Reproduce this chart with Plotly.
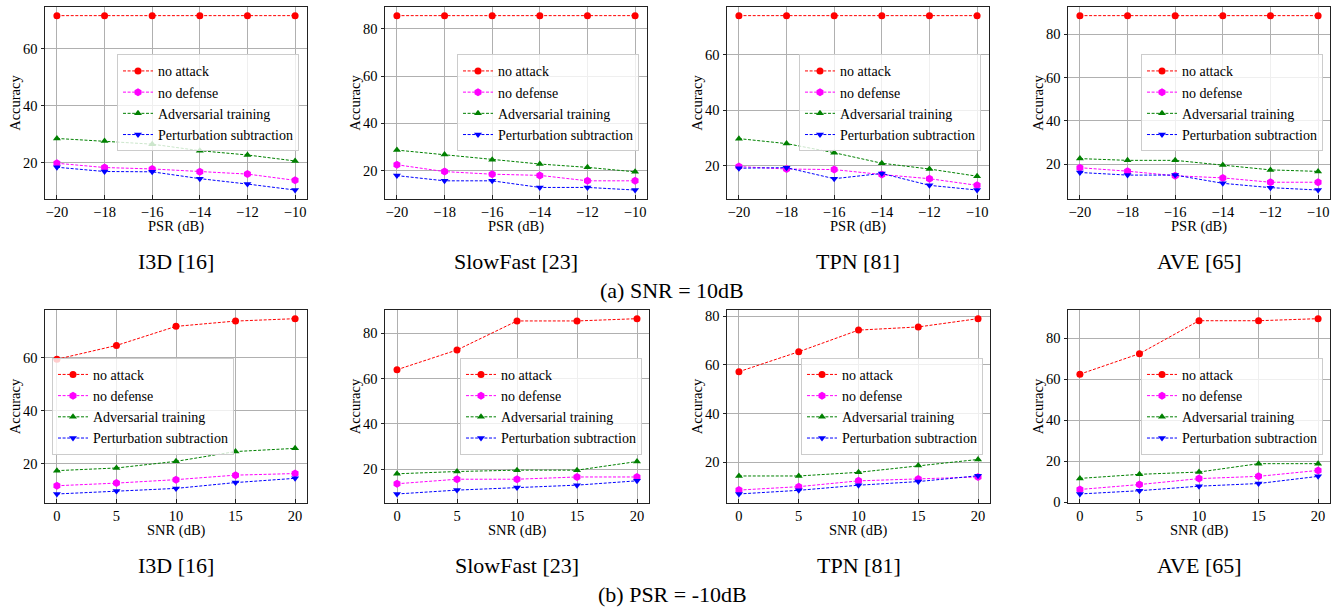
import plotly.graph_objects as go

# ---------------- data ----------------
psr = [-20, -18, -16, -14, -12, -10]
psr_ticktext = ["\u221220", "\u221218", "\u221216", "\u221214", "\u221212", "\u221210"]
snr = [0, 5, 10, 15, 20]

series_names = ["no attack", "no defense", "Adversarial training", "Perturbation subtraction"]
models = ["I3D [16]", "SlowFast [23]", "TPN [81]", "AVE [65]"]

# (a) SNR = 10dB, x = PSR
i3d_a_noattack = [71.7, 71.7, 71.7, 71.7, 71.7, 71.7]
i3d_a_nodef = [19.9, 18.4, 17.9, 16.9, 16.1, 13.9]
i3d_a_adv = [28.6, 27.7, 26.6, 24.3, 22.8, 20.7]
i3d_a_pert = [18.5, 17.0, 16.9, 14.5, 12.6, 10.5]

sf_a_noattack = [85.6, 85.6, 85.6, 85.6, 85.6, 85.6]
sf_a_nodef = [22.5, 19.6, 18.5, 18.0, 15.7, 15.7]
sf_a_adv = [28.7, 26.8, 24.6, 22.8, 21.4, 19.5]
sf_a_pert = [17.9, 15.7, 15.7, 12.9, 12.9, 11.8]

tpn_a_noattack = [74.2, 74.2, 74.2, 74.2, 74.2, 74.2]
tpn_a_nodef = [19.6, 18.7, 18.5, 16.7, 15.2, 12.8]
tpn_a_adv = [29.7, 27.9, 24.6, 20.8, 18.7, 16.1]
tpn_a_pert = [19.0, 19.2, 15.2, 17.1, 12.8, 11.1]

ave_a_noattack = [88.6, 88.6, 88.6, 88.6, 88.6, 88.6]
ave_a_nodef = [18.4, 16.8, 14.7, 13.7, 11.7, 11.7]
ave_a_adv = [22.6, 21.8, 21.8, 19.7, 17.4, 16.7]
ave_a_pert = [16.2, 15.0, 15.0, 11.2, 9.2, 8.1]

# (b) PSR = -10dB, x = SNR
i3d_b_noattack = [59.4, 64.6, 71.8, 73.8, 74.7]
i3d_b_nodef = [11.7, 12.7, 14.0, 15.7, 16.3]
i3d_b_adv = [17.4, 18.4, 20.9, 24.6, 25.8]
i3d_b_pert = [8.6, 9.7, 10.7, 12.9, 14.5]

sf_b_noattack = [63.9, 72.6, 85.4, 85.4, 86.4]
sf_b_nodef = [13.6, 15.6, 15.6, 16.6, 16.6]
sf_b_adv = [18.0, 19.0, 19.6, 19.6, 23.4]
sf_b_pert = [9.1, 10.8, 11.9, 13.0, 14.9]

tpn_b_noattack = [57.2, 65.4, 74.3, 75.6, 79.0]
tpn_b_nodef = [8.5, 9.9, 12.3, 13.1, 13.9]
tpn_b_adv = [14.3, 14.3, 15.8, 18.6, 21.1]
tpn_b_pert = [6.9, 8.4, 10.5, 12.0, 14.4]

ave_b_noattack = [62.5, 72.5, 88.6, 88.6, 89.6]
ave_b_nodef = [6.2, 8.6, 11.5, 12.6, 15.5]
ave_b_adv = [11.6, 13.6, 14.7, 18.8, 18.8]
ave_b_pert = [4.0, 5.6, 7.8, 9.1, 12.6]

top_panels = [
    [i3d_a_noattack, i3d_a_nodef, i3d_a_adv, i3d_a_pert],
    [sf_a_noattack, sf_a_nodef, sf_a_adv, sf_a_pert],
    [tpn_a_noattack, tpn_a_nodef, tpn_a_adv, tpn_a_pert],
    [ave_a_noattack, ave_a_nodef, ave_a_adv, ave_a_pert],
]
bottom_panels = [
    [i3d_b_noattack, i3d_b_nodef, i3d_b_adv, i3d_b_pert],
    [sf_b_noattack, sf_b_nodef, sf_b_adv, sf_b_pert],
    [tpn_b_noattack, tpn_b_nodef, tpn_b_adv, tpn_b_pert],
    [ave_b_noattack, ave_b_nodef, ave_b_adv, ave_b_pert],
]

# ---------------- style ----------------
W, H = 1344, 616
FONT = "Liberation Serif, Times New Roman, serif"
FS = 14.5
LFS = 14
colors = ["#ff0000", "#ff00ff", "#008000", "#0000ff"]
symbols = ["circle", "hexagon", "triangle-up", "triangle-down"]

top_x_px = [(45, 307), (385, 647), (727, 989), (1068, 1330)]
bot_x_px = [(45, 307), (385, 649), (727, 990), (1068, 1330)]
top_y_px = (5, 200)
bot_y_px = (313, 509)
top_leg = [(299, "right"), (639, "right"), (981, "right"), (1323, "right")]
bot_leg = [(52, "left"), (642, "right"), (983, "right"), (1323, "right")]


def px_x(p):
    return p / W


def px_y(p):
    return 1 - p / H


def mpl_range(vals, pad=0.05):
    lo, hi = min(vals), max(vals)
    d = hi - lo
    return [lo - pad * d, hi + pad * d]


fig = go.Figure()
layout = dict(
    width=W, height=H, margin=dict(l=0, r=0, t=0, b=0),
    paper_bgcolor="white", plot_bgcolor="white",
    font=dict(family=FONT, size=FS, color="black"),
    annotations=[],
)

panels = []
for i in range(4):
    panels.append(("a", i, top_panels[i], psr, top_x_px[i], top_y_px, top_leg[i]))
for i in range(4):
    panels.append(("b", i, bottom_panels[i], snr, bot_x_px[i], bot_y_px, bot_leg[i]))

for k, (row, col, data, xs, xpx, ypx, leg) in enumerate(panels):
    n = k + 1
    xa = "x" if n == 1 else f"x{n}"
    ya = "y" if n == 1 else f"y{n}"
    lg = "legend" if n == 1 else f"legend{n}"
    for s in range(4):
        fig.add_trace(go.Scatter(
            x=xs, y=data[s], name=series_names[s], mode="lines+markers",
            xaxis=xa, yaxis=ya, legend=lg,
            line=dict(color=colors[s], width=1, dash="3px,1.6px"),
            marker=dict(color=colors[s], symbol=symbols[s], size=7 if s != 1 else 8,
                        line=dict(width=0)),
            showlegend=True,
        ))
    allv = [v for ser in data for v in ser]
    yr = mpl_range(allv)
    xr = mpl_range(xs)
    axis_common = dict(
        showline=True, mirror=True, linecolor="#222222", linewidth=1,
        showgrid=True, gridcolor="#b0b0b0", gridwidth=0.8,
        ticklen=3.5, tickwidth=0.8, tickcolor="#222222",
        zeroline=False, tickfont=dict(family=FONT, size=FS, color="black"),
    )
    xaxis = dict(axis_common, ticks="inside", domain=[px_x(xpx[0]), px_x(xpx[1])],
                 range=xr, anchor=ya)
    if row == "a":
        xaxis.update(tickvals=psr, ticktext=psr_ticktext)
    else:
        xaxis.update(tickvals=snr)
    yaxis = dict(axis_common, ticks="outside", domain=[px_y(ypx[1]), px_y(ypx[0])],
                 range=yr, anchor=xa, dtick=20, tick0=0)
    layout["xaxis" if n == 1 else f"xaxis{n}"] = xaxis
    layout["yaxis" if n == 1 else f"yaxis{n}"] = yaxis

    ycenter = (ypx[0] + ypx[1]) / 2
    layout[lg] = dict(
        x=px_x(leg[0]), xanchor=leg[1], y=px_y(ycenter), yanchor="middle",
        xref="paper", yref="paper",
        bgcolor="rgba(255,255,255,0.8)", bordercolor="#cccccc", borderwidth=1,
        font=dict(family=FONT, size=LFS, color="black"),
        itemwidth=30, tracegroupgap=0,
    )

    layout["annotations"].append(dict(
        text="Accuracy", xref="paper", yref="paper", textangle=-90,
        x=px_x(xpx[0] - 30), y=px_y(ycenter), xanchor="center", yanchor="middle",
        showarrow=False, font=dict(family=FONT, size=FS, color="black")))
    layout["annotations"].append(dict(
        text="PSR (dB)" if row == "a" else "SNR (dB)", xref="paper", yref="paper",
        x=px_x((xpx[0] + xpx[1]) / 2), y=px_y(ypx[1] + 28), xanchor="center",
        yanchor="middle", showarrow=False,
        font=dict(family=FONT, size=FS, color="black")))
    layout["annotations"].append(dict(
        text=models[col], xref="paper", yref="paper",
        x=px_x((xpx[0] + xpx[1]) / 2), y=px_y(ypx[1] + 64), xanchor="center",
        yanchor="middle", showarrow=False,
        font=dict(family=FONT, size=22, color="black")))

layout["annotations"].append(dict(
    text="(a) SNR = 10dB", xref="paper", yref="paper", x=0.5, y=px_y(293),
    xanchor="center", yanchor="middle", showarrow=False,
    font=dict(family=FONT, size=22, color="black")))
layout["annotations"].append(dict(
    text="(b) PSR = -10dB", xref="paper", yref="paper", x=0.5, y=px_y(602),
    xanchor="center", yanchor="middle", showarrow=False,
    font=dict(family=FONT, size=22, color="black")))

fig.update_layout(**layout)
fig.write_html("out.html")
